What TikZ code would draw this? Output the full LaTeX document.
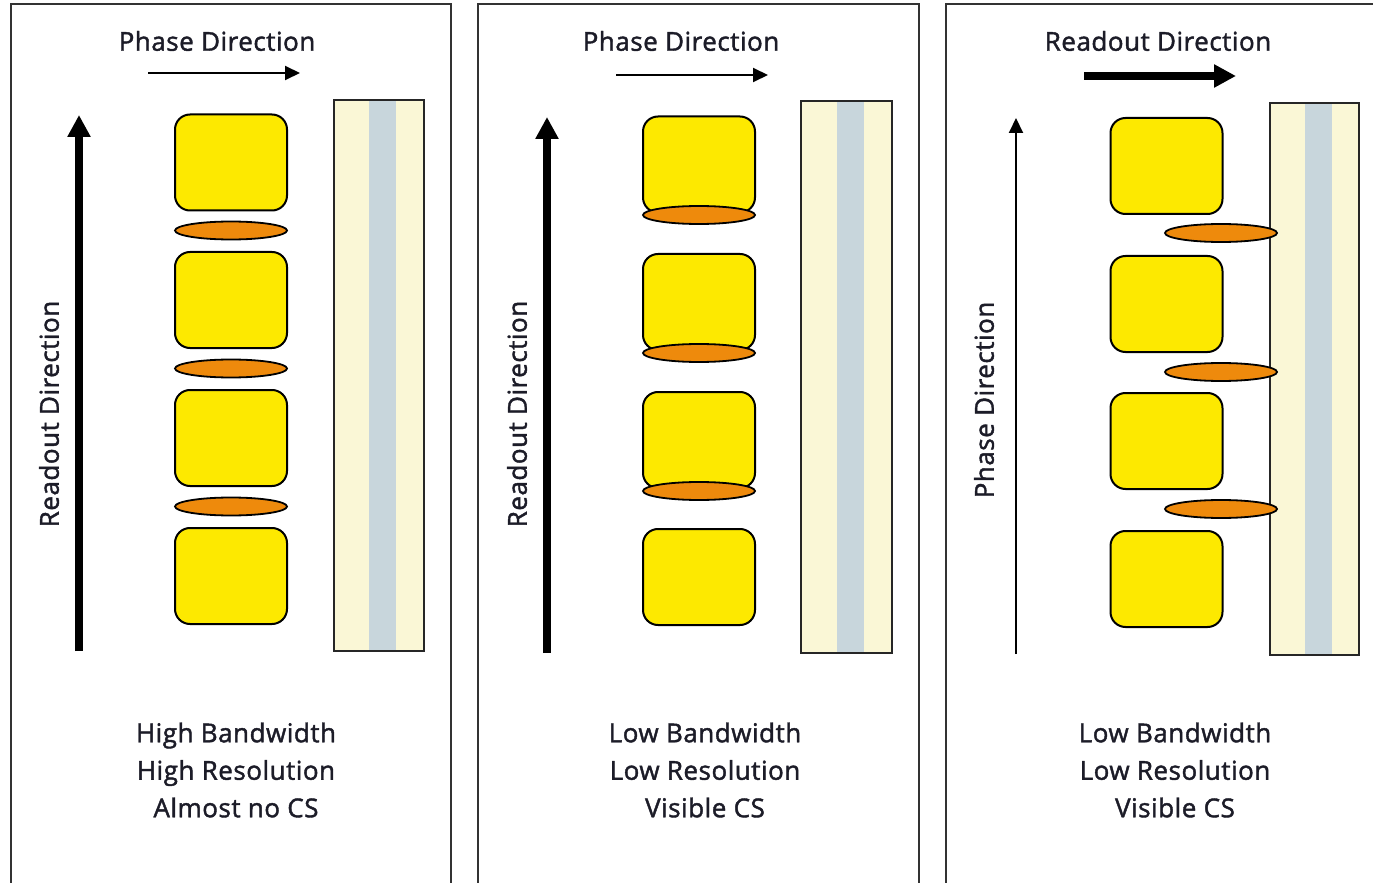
\documentclass[tikz,border=0pt]{standalone}
\usepackage{fontspec}
\setmainfont{Open Sans}[FakeBold=1.6, LetterSpace=2]
\usetikzlibrary{arrows.meta,shapes.geometric}
\definecolor{cellyellow}{HTML}{FDE900}
\definecolor{sliceorange}{HTML}{EE8A0C}
\definecolor{tubecream}{HTML}{FAF7D6}
\definecolor{tubecore}{HTML}{C8D6DC}
\definecolor{inkdark}{HTML}{1C1C28}
\begin{document}
\begin{tikzpicture}[x=0.5pt,y=-0.5pt,
  frame/.style={draw=black!80, line width=1pt},
  cell/.style={draw=black, line width=1pt, fill=cellyellow, rounded corners=7.5pt,
    minimum width=56pt, minimum height=48pt, inner sep=0pt, outer sep=0pt},
  slice/.style={draw=black, line width=0.9pt, fill=sliceorange, ellipse,
    minimum width=56pt, minimum height=9pt, inner sep=0pt, outer sep=0pt},
  tubeedge/.style={draw=black!85, line width=1pt},
  lbl/.style={text=inkdark, font=\fontsize{13}{15}\selectfont, inner sep=0pt},
  note/.style={text=inkdark, font=\fontsize{13}{18.75}\selectfont, align=center, inner sep=0pt},
  thinarrow/.style={draw=black, line width=1pt, -{Triangle[length=7.5pt,width=7pt]}},
  boldarrow/.style={draw=black, line width=3.8pt, -{Triangle[length=11pt,width=11pt]}},
]
\useasboundingbox (0,0) rectangle (1373,883);
\clip (0,0) rectangle (1373,883);

% ---------- panel frames ----------
\draw[frame] (11,900) -- (11,4) -- (451,4) -- (451,900);
\draw[frame] (478,900) -- (478,4) -- (919,4) -- (919,900);
\draw[frame] (946,900) -- (946,4) -- (1390,4);

% ---------- tubes ----------
\foreach \n/\l/\r/\sl/\sr/\t/\b in {A/334/424/369/396/100/651, B/801/892/837/864/101/653, C/1270/1359/1305/1332/103/655}{
  \fill[tubecream] (\l,\t) rectangle (\r,\b);
  \fill[tubecore] (\sl,\t) rectangle (\sr,\b);
  \draw[tubeedge] (\l,\t) rectangle (\r,\b);
}

% ---------- panel 1: high bandwidth ----------
\node[lbl] (phA) at (217,41) {Phase Direction};
\coordinate (phAs) at (148,73);
\coordinate (phAe) at (300,73);
\draw[thinarrow] (phAs) -- (phAe);
\node[lbl, rotate=90] (roA) at (49,414) {Readout Direction};
\coordinate (roAs) at (79,651);
\coordinate (roAe) at (79,115);
\draw[boldarrow] (roAs) -- (roAe);
\node[cell] (cA1) at (231,162.5) {};
\node[cell] (cA2) at (231,300) {};
\node[cell] (cA3) at (231,438) {};
\node[cell] (cA4) at (231,576) {};
\node[slice] (sA1) at (231,230.5) {};
\node[slice] (sA2) at (231,368.5) {};
\node[slice] (sA3) at (231,506.5) {};
\node[note] (nA) at (236,770) {High Bandwidth\\High Resolution\\Almost no CS};

% ---------- panel 2: low bandwidth ----------
\node[lbl] (phB) at (681,41) {Phase Direction};
\coordinate (phBs) at (616,75);
\coordinate (phBe) at (768,75);
\draw[thinarrow] (phBs) -- (phBe);
\node[lbl, rotate=90] (roB) at (517,414) {Readout Direction};
\coordinate (roBs) at (547,653);
\coordinate (roBe) at (547,117);
\draw[boldarrow] (roBs) -- (roBe);
\node[cell] (cB1) at (699,164.5) {};
\node[cell] (cB2) at (699,302) {};
\node[cell] (cB3) at (699,440) {};
\node[cell] (cB4) at (699,577) {};
\node[slice] (sB1) at (699,215) {};
\node[slice] (sB2) at (699,353) {};
\node[slice] (sB3) at (699,491) {};
\node[note] (nB) at (705,770) {Low Bandwidth\\Low Resolution\\Visible CS};

% ---------- panel 3: swapped directions ----------
\node[lbl] (roC) at (1158,41) {Readout Direction};
\coordinate (roCs) at (1084,76);
\coordinate (roCe) at (1236,76);
\draw[boldarrow] (roCs) -- (roCe);
\node[lbl, rotate=90] (phC) at (984,400) {Phase Direction};
\coordinate (phCs) at (1016,654);
\coordinate (phCe) at (1016,118);
\draw[thinarrow] (phCs) -- (phCe);
\node[cell] (cC1) at (1166.5,166) {};
\node[cell] (cC2) at (1166.5,304) {};
\node[cell] (cC3) at (1166.5,441) {};
\node[cell] (cC4) at (1166.5,579) {};
\node[slice] (sC1) at (1221,233) {};
\node[slice] (sC2) at (1221,372) {};
\node[slice] (sC3) at (1221,509) {};
\node[note] (nC) at (1175,770) {Low Bandwidth\\Low Resolution\\Visible CS};
\end{tikzpicture}
\end{document}
